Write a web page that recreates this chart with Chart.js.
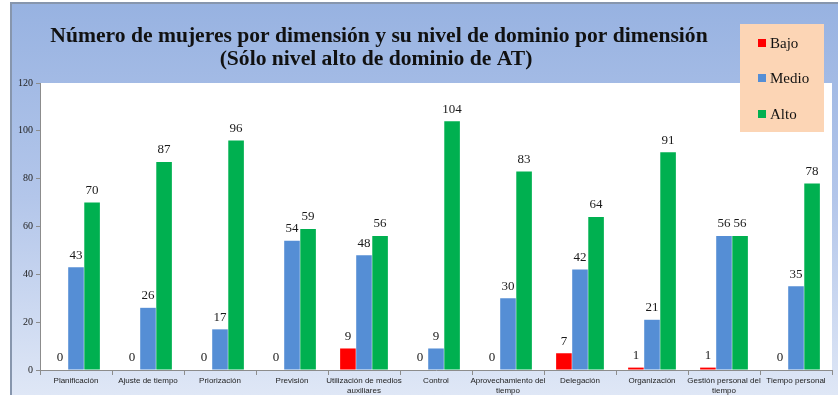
<!DOCTYPE html>
<html>
<head>
<meta charset="utf-8">
<script src="https://cdn.jsdelivr.net/npm/chart.js@4/dist/chart.umd.min.js"></script>
<style>
  html, body { margin: 0; padding: 0; background: #ffffff; }
  #wrap { width: 838px; height: 395px; position: relative; }
</style>
</head>
<body>
<div id="wrap"><canvas id="c" width="838" height="395"></canvas></div>
<script>
// Dimensions of time management and counts per proficiency level
const categories = [
  'Planificación', 'Ajuste de tiempo', 'Priorización', 'Previsión',
  ['Utilización de medios', 'auxiliares'], 'Control',
  ['Aprovechamiento del', 'tiempo'], 'Delegación', 'Organización',
  ['Gestión personal del', 'tiempo'], 'Tiempo personal'
];
const bajo  = [0, 0, 0, 0, 9, 0, 0, 7, 1, 1, 0];
const medio = [43, 26, 17, 54, 48, 9, 30, 42, 21, 56, 35];
const alto  = [70, 87, 96, 59, 56, 104, 83, 64, 91, 56, 78];
const seriesNames = ['Bajo', 'Medio', 'Alto'];
const yTicks = [0, 20, 40, 60, 80, 100, 120];
const titleLines = [
  'Número de mujeres por dimensión y su nivel de dominio por dimensión',
  '(Sólo nivel alto de dominio de AT)'
];

const SERIF = '"Liberation Serif", "Times New Roman", serif';
const SANS = '"Liberation Sans", Arial, sans-serif';

// Gradient frame, white plot area, title, legend box and value labels
const decor = {
  id: 'decor',
  beforeDraw(chart) {
    const { ctx, chartArea: a, width, height } = chart;
    ctx.save();
    const g = ctx.createLinearGradient(0, 0, 0, height);
    g.addColorStop(0, '#97b2e1');
    g.addColorStop(0.5, '#b3c6ea');
    g.addColorStop(1, '#dfe7f6');
    ctx.fillStyle = '#ffffff';
    ctx.fillRect(0, 0, width, height);
    ctx.fillStyle = g;
    ctx.fillRect(11, 3, width - 11, height - 3);
    ctx.strokeStyle = '#8796ad';
    ctx.lineWidth = 2;
    ctx.beginPath();
    ctx.moveTo(11, height);
    ctx.lineTo(11, 3);
    ctx.lineTo(width, 3);
    ctx.stroke();
    ctx.fillStyle = '#ffffff';
    ctx.fillRect(a.left, a.top, a.right - a.left, a.bottom - a.top);
    ctx.restore();
  },
  afterDraw(chart) {
    const { ctx } = chart;
    ctx.save();
    // title
    ctx.fillStyle = '#111111';
    ctx.font = 'bold 21.6px ' + SERIF;
    ctx.textAlign = 'center';
    ctx.textBaseline = 'middle';
    ctx.fillText(titleLines[0], 379, 36);
    ctx.fillText(titleLines[1], 376, 59);

    // value labels
    ctx.font = '13px ' + SERIF;
    ctx.fillStyle = '#1a1a1a';
    chart.data.datasets.forEach((ds, i) => {
      const meta = chart.getDatasetMeta(i);
      meta.data.forEach((bar, j) => {
        ctx.fillText(String(ds.data[j]), bar.x, bar.y - 12);
      });
    });

    // legend box
    ctx.fillStyle = '#fcd5b5';
    ctx.fillRect(740, 24, 84, 108);
    ctx.textAlign = 'left';
    ctx.font = '15px ' + SERIF;
    const ys = [43, 78, 114];
    chart.data.datasets.forEach((ds, i) => {
      ctx.fillStyle = ds.backgroundColor;
      ctx.fillRect(758, ys[i] - 4, 8, 8);
      ctx.fillStyle = '#111111';
      ctx.fillText(ds.label, 770, ys[i] + 1);
    });
    ctx.restore();
  }
};

new Chart(document.getElementById('c'), {
  type: 'bar',
  data: {
    labels: categories,
    datasets: [
      { label: seriesNames[0], data: bajo,  backgroundColor: '#ff0000' },
      { label: seriesNames[1], data: medio, backgroundColor: '#558ed5' },
      { label: seriesNames[2], data: alto,  backgroundColor: '#00b050' }
    ]
  },
  options: {
    responsive: false,
    animation: false,
    devicePixelRatio: 1,
    layout: { padding: { left: 11, top: 83, right: 6, bottom: 0 } },
    datasets: { bar: { categoryPercentage: 0.67, barPercentage: 0.97 } },
    plugins: {
      legend: { display: false },
      title: { display: false },
      tooltip: { enabled: false }
    },
    scales: {
      x: {
        offset: true,
        grid: { offset: true, drawOnChartArea: false, tickLength: 5, color: '#8c8c8c' },
        border: { color: '#8c8c8c' },
        ticks: {
          autoSkip: false, maxRotation: 0, minRotation: 0, padding: 1,
          color: '#222222', font: { family: SANS, size: 8 }
        },
        afterFit(s) { s.height = 25; }
      },
      y: {
        min: 0, max: 120,
        afterBuildTicks(s) { s.ticks = yTicks.map(v => ({ value: v })); },
        grid: { drawOnChartArea: false, tickLength: 4, color: '#8c8c8c' },
        border: { color: '#8c8c8c' },
        ticks: {
          padding: 3, color: '#222222',
          font: { family: SERIF, size: 10 }
        },
        afterFit(s) { s.width = 29; }
      }
    }
  },
  plugins: [decor]
});
</script>
</body>
</html>
